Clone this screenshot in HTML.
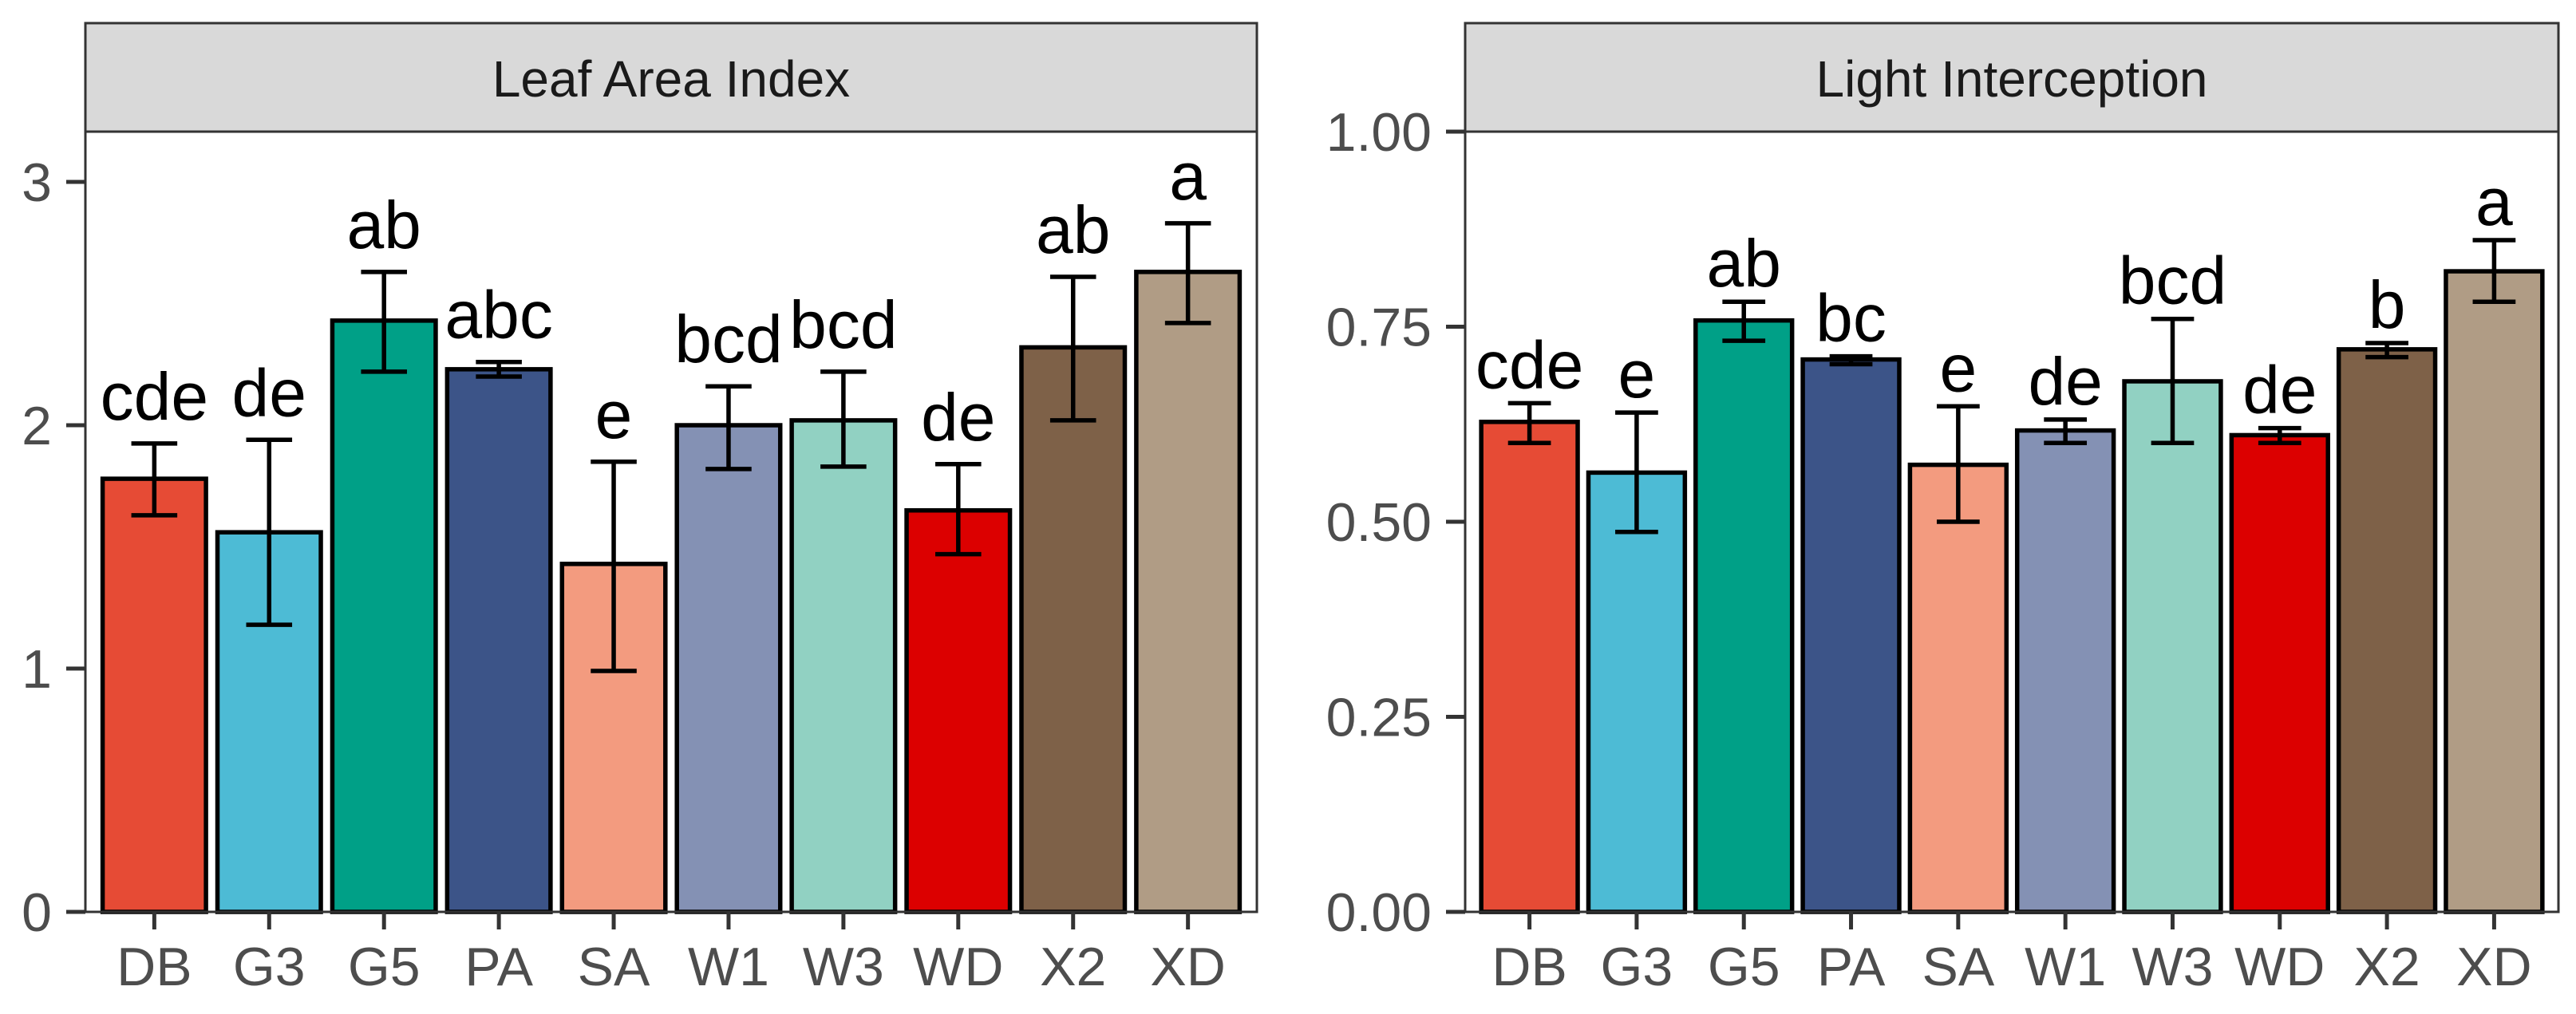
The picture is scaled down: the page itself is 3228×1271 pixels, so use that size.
<!DOCTYPE html>
<html><head><meta charset="utf-8"><style>
html,body{margin:0;padding:0;background:#fff;}
svg{display:block;font-family:"Liberation Sans",Arial,sans-serif;}
</style></head><body>
<svg id="chart" width="3228" height="1271" viewBox="0 0 3228 1271"></svg>
<script>
const categories = ["DB","G3","G5","PA","SA","W1","W3","WD","X2","XD"];
const colors = ["#E64B35","#4DBBD5","#00A087","#3C5488","#F39B7F","#8491B4","#91D1C2","#DC0000","#7E6148","#B09C85"];
const laiMean = [1.78,1.56,2.43,2.23,1.43,2.00,2.02,1.65,2.32,2.63];
const laiLow  = [1.63,1.18,2.22,2.20,0.99,1.82,1.83,1.47,2.02,2.42];
const laiHigh = [1.925,1.94,2.63,2.26,1.85,2.16,2.22,1.84,2.61,2.83];
const laiLetters = ["cde","de","ab","abc","e","bcd","bcd","de","ab","a"];
const laiTicks = [0,1,2,3];
const laiTickLabels = ["0","1","2","3"];
const liMean = [0.628,0.563,0.758,0.708,0.573,0.617,0.680,0.611,0.721,0.821];
const liLow  = [0.601,0.487,0.732,0.702,0.500,0.601,0.601,0.601,0.711,0.782];
const liHigh = [0.652,0.640,0.782,0.712,0.648,0.631,0.760,0.620,0.729,0.861];
const liLetters = ["cde","e","ab","bc","e","de","bcd","de","b","a"];
const liTicks = [0,0.25,0.5,0.75,1.0];
const liTickLabels = ["0.00","0.25","0.50","0.75","1.00"];

const NS="http://www.w3.org/2000/svg";
const svg=document.getElementById('chart');
function mk(tag,attrs,parent){const e=document.createElementNS(NS,tag);for(const k in attrs)e.setAttribute(k,attrs[k]);(parent||svg).appendChild(e);return e;}

function panel(cfg){
  const g=mk('g',{});
  
  
  const {x0,x1,stripTop,stripBot,y0,yTop,vMax}=cfg;
  const step=(x1-x0)/(categories.length+0.2);
  const xc=i=>x0+step*(0.6+i);
  const ys=v=>y0-(v/vMax)*(y0-yTop);
  // strip
  const strip=mk('rect',{x:x0,y:stripTop,width:x1-x0,height:stripBot-stripTop,fill:'#d9d9d9',stroke:'#333333','stroke-width':3},g);
  
  
  const st=mk('text',{x:(x0+x1)/2,y:stripTop+92,'text-anchor':'middle','font-size':64,fill:'#1a1a1a'},g);
  st.textContent=cfg.title;
  
  
  // panel bg
  const bg=mk('rect',{x:x0,y:stripBot,width:x1-x0,height:y0-stripBot,fill:'#ffffff'},g);
  
  
  // bars
  for(let i=0;i<categories.length;i++){
    const w=step*0.9, top=ys(cfg.mean[i]);
    const r=mk('rect',{x:xc(i)-w/2,y:top,width:w,height:y0-top,fill:colors[i],stroke:'#000','stroke-width':5.5},g);
    
    
  }
  // error bars
  for(let i=0;i<categories.length;i++){
    const eg=mk('g',{stroke:'#000','stroke-width':5.5,fill:'none'},g);
    
    
    const c=xc(i),hw=step*0.2,yl=ys(cfg.low[i]),yh=ys(cfg.high[i]);
    mk('line',{x1:c,x2:c,y1:yl,y2:yh},eg);
    mk('line',{x1:c-hw,x2:c+hw,y1:yl,y2:yl},eg);
    mk('line',{x1:c-hw,x2:c+hw,y1:yh,y2:yh},eg);
    const t=mk('text',{x:c,y:yh-cfg.letterOff,'text-anchor':'middle','font-size':84,fill:'#000'},g);
    t.textContent=cfg.letters[i];
    
    
  }
  // border
  const b=mk('rect',{x:x0,y:stripBot,width:x1-x0,height:y0-stripBot,fill:'none',stroke:'#333333','stroke-width':3},g);
  
  
  // y axis
  for(let k=0;k<cfg.ticks.length;k++){
    const y=ys(cfg.ticks[k]);
    mk('line',{x1:x0-24,x2:x0,y1:y,y2:y,stroke:'#333333','stroke-width':5},g);
    const t=mk('text',{x:x0-42,y:y+24,'text-anchor':'end','font-size':68,fill:'#4d4d4d'},g);
    t.textContent=cfg.tickLabels[k];
    
    
  }
  // x axis
  for(let i=0;i<categories.length;i++){
    mk('line',{x1:xc(i),x2:xc(i),y1:y0,y2:y0+22,stroke:'#333333','stroke-width':5},g);
    const t=mk('text',{x:xc(i),y:1235,'text-anchor':'middle','font-size':68,fill:'#4d4d4d'},g);
    t.textContent=categories[i];
    
    
  }
}
panel({name:'leaf-area-index-panel',title:'Leaf Area Index',x0:107,x1:1575,stripTop:29,stripBot:165,y0:1143,yTop:228,vMax:3,
  mean:laiMean,low:laiLow,high:laiHigh,letters:laiLetters,ticks:laiTicks,tickLabels:laiTickLabels,letterOff:30});
panel({name:'light-interception-panel',title:'Light Interception',x0:1836,x1:3206,stripTop:29,stripBot:165,y0:1143,yTop:165,vMax:1,
  mean:liMean,low:liLow,high:liHigh,letters:liLetters,ticks:liTicks,tickLabels:liTickLabels,letterOff:19});
</script>
</body></html>
